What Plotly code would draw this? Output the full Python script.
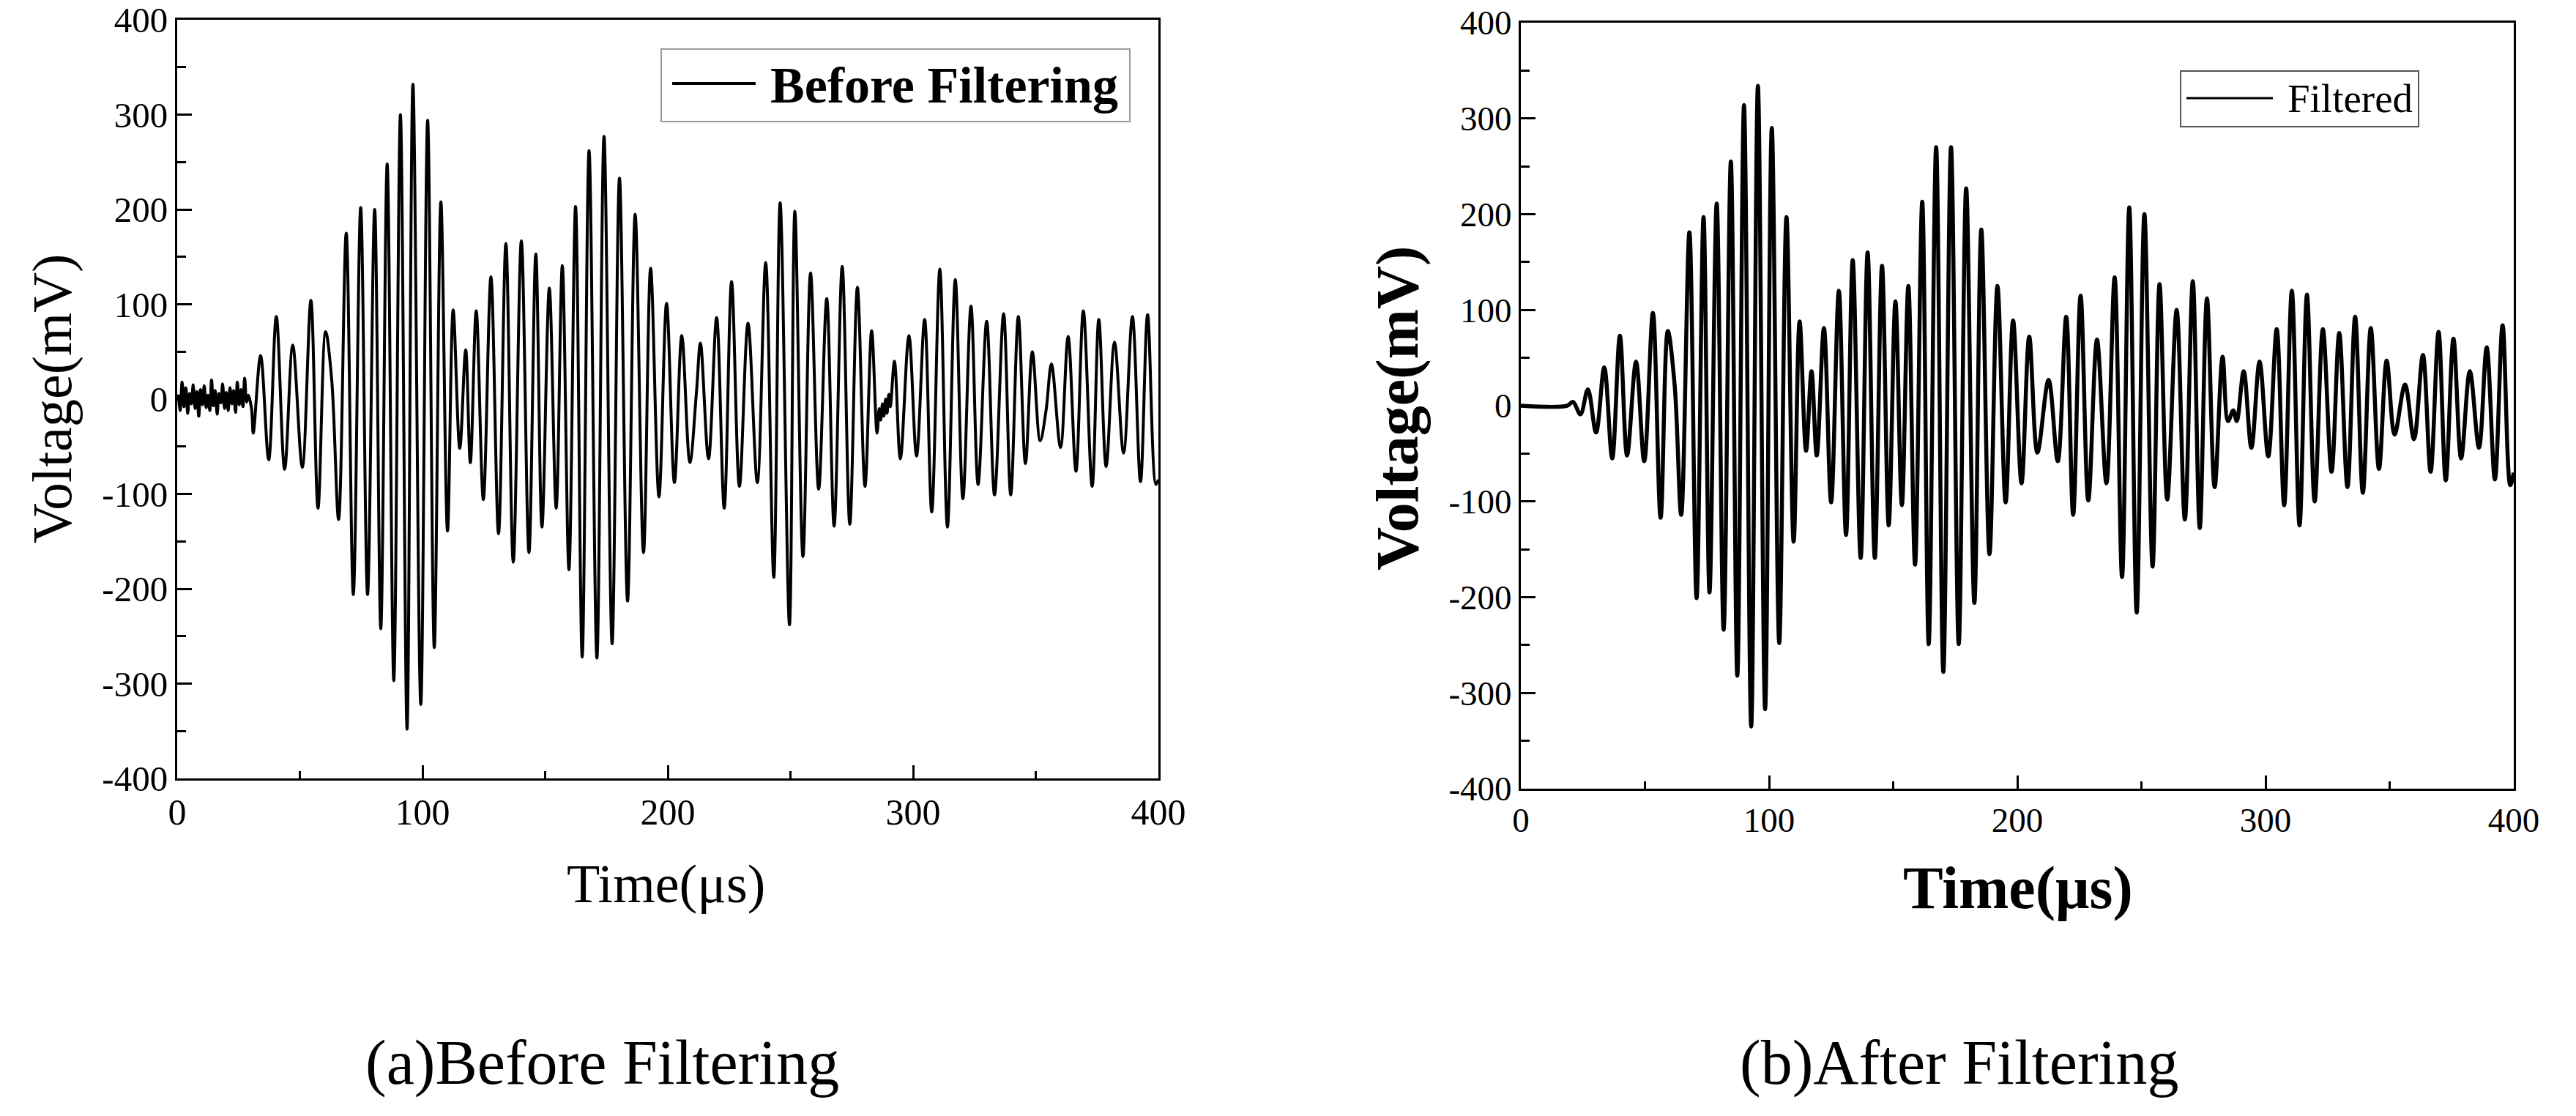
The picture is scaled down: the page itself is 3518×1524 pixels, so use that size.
import plotly.graph_objects as go

# ---------------- data ----------------
# (a) Before filtering: time (us) and voltage (mV) of the extrema / noise samples
t_before = [
    0.5, 1.2, 2.0, 2.8, 3.5, 4.3, 5.0, 5.8, 6.5, 7.3, 8.0, 8.8, 9.5, 10.3, 11.0, 11.8,
    12.5, 13.3, 14.0, 14.8, 15.5, 16.3, 17.0, 17.8, 18.5, 19.3, 20.0, 20.8, 21.5, 22.3,
    23.0, 23.8, 24.5, 25.3, 26.0, 26.8, 27.5, 28.3, 29.0, 30.3,
    31.0, 34.0, 37.3, 40.4, 43.8, 47.1, 51.0, 54.5, 57.4, 60.5, 63.0, 65.8,
    68.9, 71.8, 74.8, 77.6, 80.5, 83.0, 85.6, 88.3, 91.0, 93.7, 96.1, 99.3,
    102.1, 104.8, 107.5, 110.2, 112.5, 115.2, 117.6, 119.5, 121.9, 124.8, 127.9, 131.0,
    134.0, 137.0, 140.3, 143.4, 146.2, 148.7, 151.7, 154.5, 157.0, 159.7, 162.4, 165.1,
    167.9, 171.1, 174.0, 177.3, 180.3, 183.6, 186.7, 190.1, 193.0, 196.4, 199.5, 202.7,
    205.7, 209.0, 211.7, 213.3, 216.6, 219.9, 223.0, 226.0, 229.2, 232.7, 236.5, 239.9,
    243.2, 245.8, 249.6, 251.8, 255.1, 258.2, 261.5, 264.8, 267.8, 271.1, 274.2, 277.3,
    280.4, 283.1, 285.3, 286.2, 286.8, 287.5, 288.1, 288.8, 289.4, 290.1, 290.7,
    292.4, 294.8, 298.3, 301.4, 304.7, 307.6, 310.9, 314.0, 317.2, 320.3, 323.6, 326.5,
    330.0, 333.2, 336.9, 339.8, 342.9, 345.8, 348.6, 351.8, 354.2, 356.4, 360.1, 363.2,
    366.4, 369.4, 373.0, 375.7, 378.7, 382.1, 385.8, 389.4, 392.7, 395.6, 399.0, 400.0,
]
v_before = [
    5, -12, 18, -8, 12, -15, 6, -5, 15, -10, 8, -18, 10, -6, 14, -9,
    4, -12, 20, -7, 9, -16, 6, -4, 16, -10, 7, -12, 12, -5,
    9, -14, 18, -6, 10, -8, 22, -3, 4, -10,
    -36, 46, -64, 87, -74, 57, -72, 104, -115, 71, 20, -127,
    175, -206, 202, -206, 200, -242, 248, -297, 300, -348, 332, -322,
    294, -262, 208, -139, 94, -52, 52, -67, 93, -106, 129, -142,
    164, -172, 167, -162, 153, -135, 117, -115, 141, -180, 203, -272,
    262, -273, 277, -258, 233, -213, 195, -162, 138, -103, 101, -88,
    67, -67, 8, 59, -63, 86, -115, 124, -92, 80, -88, 144,
    -188, 207, -238, 198, -166, 133, -95, 106, -134, 140, -132, 118,
    -92, 72, -36, -10, -22, -5, -18, 0, -15, 5, -8,
    40, -63, 67, -60, 84, -119, 137, -135, 126, -105, 98, -90,
    82, -101, 90, -101, 87, -68, 50, -44, -12, 37, -51, 66,
    -76, 93, -92, 84, -71, 60, -57, 87, -87, 89, -90, -85,
]

# (b) After filtering
t_after = [
    0.0, 18.7, 21.0, 24.0, 27.0, 30.3, 33.6, 36.8, 39.9, 42.8, 46.4, 49.7, 53.2, 56.3,
    59.2, 62.0, 64.6, 67.9, 70.8, 73.6, 76.0, 78.9, 81.7, 84.6, 87.2, 89.9, 92.8, 95.5,
    98.4, 101.1, 104.1, 107.0, 109.9, 112.3, 114.9, 117.1, 119.2, 122.1, 125.0, 128.1,
    131.0, 133.7, 136.9, 139.7, 142.6, 145.5, 148.2, 150.9, 153.5, 156.1, 158.8, 161.7,
    164.3, 167.3, 170.2, 173.3, 176.4, 179.4, 182.7, 185.5, 188.8, 192.0, 195.3, 198.3,
    201.7, 204.8, 208.1, 212.6, 216.3, 219.7, 222.5, 225.5, 228.6, 232.1, 235.9, 239.2,
    242.2, 245.1, 248.1, 251.2, 254.5, 257.3, 260.4, 264.2, 267.5, 270.7, 273.5, 276.4,
    279.5, 282.7, 284.9, 287.0, 288.4, 291.2, 294.3, 297.6, 301.1, 304.5, 307.5, 310.6,
    313.7, 316.7, 319.8, 323.1, 326.6, 329.7, 333.0, 336.1, 339.2, 342.4, 345.7, 348.8,
    352.0, 356.2, 359.8, 363.4, 366.5, 369.7, 372.6, 375.7, 378.8, 382.3, 386.0, 389.1,
    392.4, 395.5, 398.6, 400.0,
]
v_after = [
    0, 0, 4, -9, 17, -28, 40, -55, 73, -52, 46, -58, 97, -117,
    78, 20, -114, 181, -201, 197, -195, 211, -234, 255, -282, 314, -335, 334,
    -317, 290, -248, 197, -142, 88, -47, 36, -52, 81, -101, 120,
    -135, 152, -159, 160, -159, 146, -125, 109, -104, 125, -166, 213,
    -249, 270, -278, 270, -249, 227, -206, 184, -155, 125, -101, 89,
    -81, 72, -49, 27, -58, 93, -114, 115, -99, 69, -81, 134,
    -179, 207, -216, 200, -168, 127, -98, 100, -119, 130, -128, 112,
    -85, 51, -16, -5, -16, 36, -44, 46, -53, 80, -104, 120,
    -125, 116, -100, 80, -69, 76, -85, 93, -91, 81, -66, 47,
    -30, 22, -35, 53, -69, 77, -78, 70, -55, 36, -44, 61,
    -77, 84, -83, -70,
]

x_tick_vals = [0, 100, 200, 300, 400]
x_tick_text = ["0", "100", "200", "300", "400"]
x_minor_vals = [50, 150, 250, 350]
y_tick_vals = [-400, -300, -200, -100, 0, 100, 200, 300, 400]
y_tick_text = ["-400", "-300", "-200", "-100", "0", "100", "200", "300", "400"]
y_minor_vals = [-350, -250, -150, -50, 50, 150, 250, 350]

captions = ["(a)Before Filtering", "(b)After Filtering"]
legend_names = ["Before Filtering", "Filtered"]

# ---------------- figure ----------------
W, H = 3518, 1524
SERIF = "Liberation Serif, Times New Roman, serif"


def px_x(x):
    return x / W


def px_y(y):
    return 1 - y / H


fig = go.Figure()
fig.add_trace(go.Scatter(x=t_before, y=v_before, mode="lines", name=legend_names[0],
                         line=dict(color="black", width=4, shape="spline", smoothing=1.0),
                         xaxis="x", yaxis="y", showlegend=False))
fig.add_trace(go.Scatter(x=t_after, y=v_after, mode="lines", name=legend_names[1],
                         line=dict(color="black", width=5.5, shape="spline", smoothing=1.0),
                         xaxis="x2", yaxis="y2", showlegend=False))


def xaxis(domain, anchor, size):
    return dict(domain=domain, anchor=anchor, range=[0, 400], tickmode="array",
                automargin=False,
                tickvals=x_tick_vals, ticktext=x_tick_text, ticks="inside", ticklen=18,
                tickwidth=3, tickcolor="black", showline=True, linewidth=3,
                linecolor="black", mirror=True, showgrid=False, zeroline=False,
                minor=dict(tickvals=x_minor_vals, ticks="inside", ticklen=10,
                           tickwidth=3, tickcolor="black", showgrid=False),
                tickfont=dict(family=SERIF, size=size, color="black"))


def yaxis(domain, anchor, size):
    return dict(domain=domain, anchor=anchor, range=[-400, 400], tickmode="array",
                automargin=False,
                tickvals=y_tick_vals, ticktext=y_tick_text, ticks="inside", ticklen=20,
                tickwidth=3, tickcolor="black", showline=True, linewidth=3,
                linecolor="black", mirror=True, showgrid=False, zeroline=False,
                minor=dict(tickvals=y_minor_vals, ticks="inside", ticklen=12,
                           tickwidth=3, tickcolor="black", showgrid=False),
                tickfont=dict(family=SERIF, size=size, color="black"))


L = dict(x0=242, x1=1582, y0=27, y1=1063)
R = dict(x0=2077, x1=3433, y0=31, y1=1077)

shapes = [
    # legend boxes
    dict(type="rect", xref="paper", yref="paper", x0=px_x(903), x1=px_x(1543),
         y0=px_y(67), y1=px_y(166), line=dict(color="#9a9a9a", width=2), fillcolor="white"),
    dict(type="line", xref="paper", yref="paper", x0=px_x(918), x1=px_x(1032),
         y0=px_y(114), y1=px_y(114), line=dict(color="black", width=4)),
    dict(type="rect", xref="paper", yref="paper", x0=px_x(2978), x1=px_x(3303),
         y0=px_y(97), y1=px_y(173), line=dict(color="#555555", width=2), fillcolor="white"),
    dict(type="line", xref="paper", yref="paper", x0=px_x(2986), x1=px_x(3104),
         y0=px_y(134), y1=px_y(134), line=dict(color="black", width=3)),
]

annotations = [
    dict(text="<b>" + legend_names[0] + "</b>", x=px_x(1050), y=px_y(116), xanchor="left",
         yanchor="middle", font=dict(family=SERIF, size=70, color="black")),
    dict(text=legend_names[1], x=px_x(3122), y=px_y(134), xanchor="left",
         yanchor="middle", font=dict(family=SERIF, size=55, color="black")),
    dict(text="Time(μs)", x=px_x(909), y=px_y(1207), font=dict(family=SERIF, size=74, color="black")),
    dict(text="Voltage(mV)", x=px_x(72), y=px_y(545), textangle=-90,
         font=dict(family=SERIF, size=76, color="black")),
    dict(text="<b>Time(μs)</b>", x=px_x(2756), y=px_y(1212), font=dict(family=SERIF, size=82, color="black")),
    dict(text="<b>Voltage(mV)</b>", x=px_x(1908), y=px_y(558), textangle=-90,
         font=dict(family=SERIF, size=82, color="black")),
    dict(text=captions[0], x=px_x(822), y=px_y(1451), font=dict(family=SERIF, size=86, color="black")),
    dict(text=captions[1], x=px_x(2675), y=px_y(1451), font=dict(family=SERIF, size=86, color="black")),
]
for a in annotations:
    a.update(xref="paper", yref="paper", showarrow=False)
    a.setdefault("xanchor", "center")
    a.setdefault("yanchor", "middle")

fig.update_layout(
    width=W, height=H, margin=dict(l=0, r=0, t=0, b=0, autoexpand=False),
    paper_bgcolor="white", plot_bgcolor="white",
    xaxis=xaxis([px_x(L["x0"]), px_x(L["x1"])], "y", 50),
    yaxis=yaxis([px_y(L["y1"]), px_y(L["y0"])], "x", 49),
    xaxis2=xaxis([px_x(R["x0"]), px_x(R["x1"])], "y2", 47),
    yaxis2=yaxis([px_y(R["y1"]), px_y(R["y0"])], "x2", 47),
    shapes=shapes, annotations=annotations, showlegend=False,
)

fig.write_html("out.html")
